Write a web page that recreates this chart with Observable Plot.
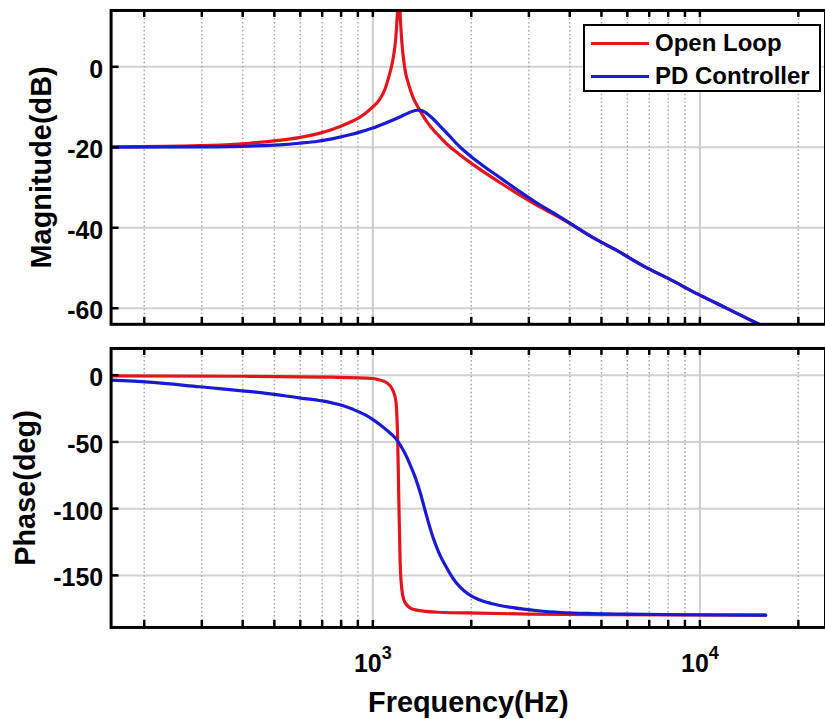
<!DOCTYPE html>
<html>
<head>
<meta charset="utf-8">
<script src="https://cdn.jsdelivr.net/npm/d3@7"></script>
<script src="https://cdn.jsdelivr.net/npm/@observablehq/plot@0.6"></script>
<style>
  html, body { margin: 0; padding: 0; background: #fff; }
  body { width: 825px; height: 719px; overflow: hidden; position: relative;
         font-family: "Liberation Sans", Arial, sans-serif; }
  #topPanel, #botPanel { position: absolute; left: 0; }
  #topPanel { top: 0; }
  #botPanel { top: 340px; }
  #legend { position: absolute; left: 583px; top: 24px; width: 234px; height: 64px;
            border: 2px solid #000; background: #fff; font-weight: bold; font-size: 24px; color: #000; }
  #legend .row { position: absolute; left: 6px; height: 30px; display: flex; align-items: center; }
  #legend .sw { width: 58px; height: 3px; margin-right: 6px; }
</style>
</head>
<body>
<div id="topPanel"></div>
<div id="botPanel"></div>
<div id="legend"></div>
<script>
// ---------- data ----------
const seriesNames = ["Open Loop", "PD Controller"];
const seriesColors = ["#e3141c", "#1a1ad2"];

// Magnitude (dB)
const olMagFreq = [158, 295, 419, 517, 595, 680, 750, 845, 906, 993, 1043, 1090, 1119, 1150, 1175, 1190, 1200, 1210, 1226, 1250, 1288, 1330, 1381, 1450, 1513, 1589, 1700, 1828, 1963, 2200, 2473, 2800, 3141, 3600, 3961, 4656, 5500, 6936, 8000, 9863, 12000, 15890];
const olMag     = [-19.9, -19.6, -19.0, -18.3, -17.6, -16.6, -15.6, -13.9, -12.7, -10.2, -8.4, -5.5, -2.5, 1.5, 7.0, 14.0, 20.0, 14.0, 6.4, 0.0, -4.5, -7.8, -10.3, -13.2, -15.2, -17.1, -19.5, -21.6, -23.5, -26.3, -29.0, -31.8, -34.2, -36.8, -38.7, -42.2, -45.4, -50.1, -52.6, -56.5, -59.9, -64.8];

const pdMagFreq = [158, 295, 419, 517, 595, 680, 750, 850, 906, 993, 1100, 1200, 1290, 1362, 1400, 1450, 1513, 1600, 1706, 1850, 2004, 2200, 2473, 2800, 3141, 3600, 3961, 4656, 5500, 6936, 8000, 9863, 12000, 15890];
const pdMag     = [-20.0, -19.9, -19.7, -19.4, -19.0, -18.5, -17.9, -16.9, -16.3, -15.3, -13.9, -12.6, -11.4, -10.8, -10.8, -11.4, -12.6, -14.6, -17.0, -20.0, -22.4, -24.9, -27.8, -30.9, -33.6, -36.5, -38.6, -42.2, -45.4, -50.1, -52.6, -56.5, -59.9, -64.8];

// Phase (deg)
const olPhaseFreq = [158, 400, 750, 1000, 1043, 1100, 1150, 1175, 1191, 1200, 1212, 1226, 1243, 1280, 1315, 1450, 1589, 2104, 3000, 5000, 15890];
const olPhase     = [-0.5, -0.8, -1.5, -2.5, -3.5, -5.5, -11, -18.7, -48, -90, -140, -160, -168, -173, -175, -177, -177.6, -178.3, -179, -179.5, -179.8];

const pdPhaseFreq = [158, 207, 295, 472, 595, 700, 750, 788, 870, 952, 993, 1050, 1100, 1175, 1200, 1250, 1300, 1352, 1400, 1451, 1482, 1530, 1589, 1670, 1791, 1900, 2004, 2104, 2300, 2655, 3200, 3770, 4700, 5904, 9000, 15890];
const pdPhase     = [-3.7, -5.2, -8.7, -13.6, -17.0, -19.3, -20.8, -22.0, -25.6, -30.0, -32.8, -37.0, -41.0, -47.5, -50.5, -58.0, -67.0, -77.5, -89.0, -103.0, -111.0, -122.0, -132.5, -143.0, -155.0, -161.5, -165.5, -168.0, -171.0, -174.0, -176.5, -177.8, -178.6, -179.0, -179.5, -179.8];

// Axes / ticks
const xMajorTicks = [1000, 10000];
const xMinorTicks = [200, 300, 400, 500, 600, 700, 800, 900, 2000, 3000, 4000, 5000, 6000, 7000, 8000, 9000, 20000];
const xTickBase = ["10", "10"];
const xTickExp = ["3", "4"];
const magTicks = [0, -20, -40, -60];
const magTickLabels = ["0", "-20", "-40", "-60"];
const phaseTicks = [0, -50, -100, -150];
const phaseTickLabels = ["0", "-50", "-100", "-150"];
const xLabel = "Frequency(Hz)";
const magLabel = "Magnitude(dB)";
const phaseLabel = "Phase(deg)";

// ---------- build ----------
const FONT = '"Liberation Sans", Arial, sans-serif';
const W = 828, ML = 111, MR = 0;
const FW = W - ML - MR;           // frame width in px
const TICK = 7;                   // inward tick length in px
const toRows = (fs, vs) => fs.map((f, i) => ({f, v: vs[i]}));
const xAll = xMinorTicks.concat(xMajorTicks);

function panelMarks(frameH, yTicks, yTickLabels, yLabel, labelDx, series) {
  return [
    Plot.ruleY(yTicks, {y: d => d, stroke: "#d2d2d2", strokeWidth: 2}),
    Plot.ruleX(xMinorTicks, {x: d => d, stroke: "#a6a6a6", strokeWidth: 1.5, strokeDasharray: "1.5,2.5"}),
    Plot.ruleX(xMajorTicks, {x: d => d, stroke: "#cdcdcd", strokeWidth: 2}),
    ...series.map((s, i) => Plot.line(s, {x: "f", y: "v", stroke: seriesColors[i], strokeWidth: 3.2, curve: "monotone-x", clip: true})),
    // inward tick marks (top, bottom, left)
    Plot.ruleX(xAll, {x: d => d, stroke: "#000", strokeWidth: 2.5, insetBottom: frameH - TICK}),
    Plot.ruleX(xAll, {x: d => d, stroke: "#000", strokeWidth: 2.5, insetTop: frameH - TICK}),
    Plot.ruleY(yTicks, {y: d => d, stroke: "#000", strokeWidth: 2.5, insetRight: FW - TICK - 1}),
    Plot.text(yTicks, {y: d => d, text: (d, i) => yTickLabels[i], frameAnchor: "left", textAnchor: "end",
      dx: -8, dy: 3, fontSize: 25, fontWeight: "bold", fill: "#000"}),
    Plot.text([yLabel], {text: d => d, frameAnchor: "left", rotate: -90, textAnchor: "middle", lineAnchor: "bottom",
      dx: labelDx, fontSize: 29, fontWeight: "bold", fill: "#000"}),
    Plot.frame({stroke: "#000", strokeWidth: 3})
  ];
}

const common = {
  width: W,
  marginLeft: ML,
  marginRight: MR,
  x: {type: "log", domain: [158.4, 24210], axis: null},
  style: {fontFamily: FONT, background: "transparent", overflow: "visible", color: "#000"}
};

const topH = 340, topMT = 10, topMB = 15;
const topChart = Plot.plot({
  ...common,
  height: topH,
  marginTop: topMT,
  marginBottom: topMB,
  y: {domain: [-64, 14], axis: null},
  marks: panelMarks(topH - topMT - topMB, magTicks, magTickLabels, magLabel, -60,
    [toRows(olMagFreq, olMag), toRows(pdMagFreq, pdMag)])
});

const botH = 379, botMT = 8, botMB = 91;
const botChart = Plot.plot({
  ...common,
  height: botH,
  marginTop: botMT,
  marginBottom: botMB,
  y: {domain: [-189, 20], axis: null},
  marks: [
    ...panelMarks(botH - botMT - botMB, phaseTicks, phaseTickLabels, phaseLabel, -76,
      [toRows(olPhaseFreq, olPhase), toRows(pdPhaseFreq, pdPhase)]),
    Plot.text(xMajorTicks, {x: d => d, text: (d, i) => xTickBase[i], frameAnchor: "bottom", lineAnchor: "middle",
      dx: -5, dy: 37, fontSize: 25, fontWeight: "bold", fill: "#000"}),
    Plot.text(xMajorTicks, {x: d => d, text: (d, i) => xTickExp[i], frameAnchor: "bottom", lineAnchor: "middle",
      dx: 14, dy: 26, fontSize: 18, fontWeight: "bold", fill: "#000"}),
    Plot.text([xLabel], {text: d => d, frameAnchor: "bottom", textAnchor: "middle", lineAnchor: "bottom",
      dy: 85, fontSize: 29, fontWeight: "bold", fill: "#000"})
  ]
});

document.getElementById("topPanel").appendChild(topChart);
document.getElementById("botPanel").appendChild(botChart);

// legend
const legend = document.getElementById("legend");
seriesNames.forEach((name, i) => {
  const row = document.createElement("div");
  row.className = "row";
  row.style.top = (i === 0 ? 2 : 35) + "px";
  const sw = document.createElement("div");
  sw.className = "sw";
  sw.style.background = seriesColors[i];
  const t = document.createElement("span");
  t.textContent = name;
  row.appendChild(sw);
  row.appendChild(t);
  legend.appendChild(row);
});
</script>
</body>
</html>
